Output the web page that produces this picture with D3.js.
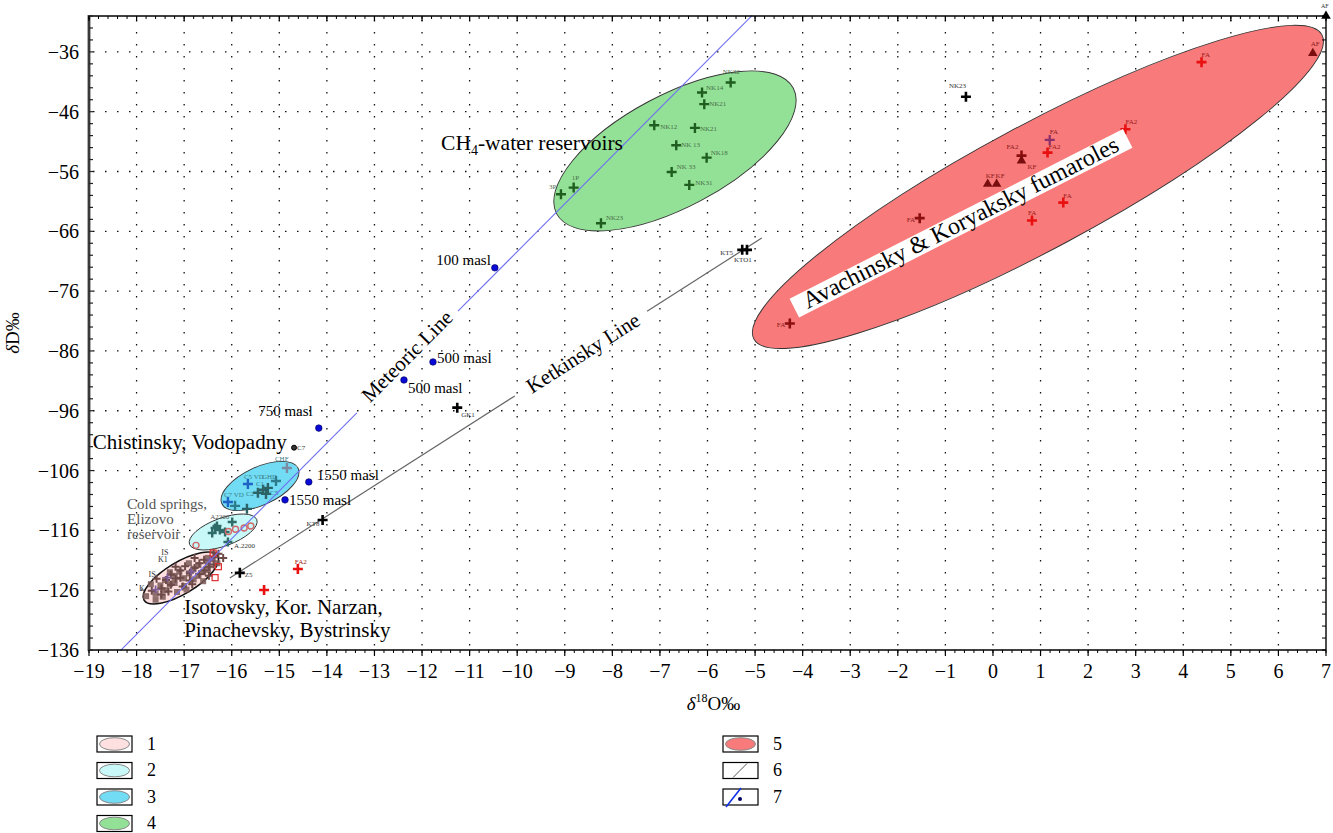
<!DOCTYPE html>
<html>
<head>
<meta charset="utf-8">
<script src="https://cdn.jsdelivr.net/npm/d3@7"></script>
<style>
  html, body { margin: 0; padding: 0; background: #fff; }
  svg { display: block; font-family: "Liberation Serif", "DejaVu Serif", serif; }
</style>
</head>
<body>
<svg id="chart" width="1333" height="833"></svg>
<script>
// ---- axes ----
const xDomain = [-19, 7];
const yDomain = [-136, -30];
const xTicks = d3.range(-19, 8, 1);
const yTicks = d3.range(-136, -35, 10);

// ---- lines: δD = slope·δ18O + intercept, drawn over the given δ18O spans ----
const meteoricLine = { slope: 8, intercept: 10.6 };
const meteoricSpans = [[-18.34, -13.37], [-11.245, -5.06]];
const ketkinskyLine = { slope: 5.085, intercept: -42.41 };
const ketkinskySpans = [[-16.04, -10.05], [-7.27, -4.86]];

// ---- field ellipses: centre, end of major axis, minor/major ratio ----
const ellipseGroups = ["1", "2", "3", "4", "5"];
const ellipseCentres = [[-17.07, -123.96], [-16.18, -116.27], [-15.406, -108.58], [-6.684, -52.56], [0.945, -58.58]];
const ellipseTips = [[-16.297, -120.26], [-15.473, -114.21], [-14.605, -105.62], [-4.198, -42.04], [6.915, -33.16]];
const ellipseRatios = [0.37, 0.39, 0.45, 0.418, 0.193];

// ---- precipitation samples (meteoric line) ----
const rainX = [-10.47, -11.77, -12.38, -14.17, -14.38, -14.88];
const rainY = [-72.1, -87.84, -90.85, -98.9, -107.9, -110.9];
const rainLabels = ["100 masl", "500 masl", "500 masl", "750 masl", "1550 masl", "1550 masl"];

// ---- CH4-water reservoirs ----
const nkX = [-5.513, -6.115, -6.068, -7.119, -6.264, -6.657, -6.018, -6.753, -6.383, -9.08, -8.813, -8.239];
const nkY = [-41.13, -42.80, -44.74, -48.26, -48.71, -51.60, -53.68, -56.07, -58.24, -59.80, -58.69, -64.65];
const nkLabels = ["NK32", "NK14", "NK21", "NK12", "NK21", "NK 13", "NK18", "NK 33", "NK31", "3P", "1P", "NK23"];

// ---- other wells and springs (black) ----
const wellX = [-0.568, -5.27, -5.17, -11.26, -14.09, -15.83];
const wellY = [-43.5, -69.1, -69.1, -95.48, -114.26, -123.1];
const wellLabels = ["NK23", "KT5", "KTO1", "GK1", "KT8", "Z5"];
const springC7 = [-14.69, -102.17];

// ---- fumarole condensates ----
const fumaroleAX = [4.384, 2.784, 1.147, 1.478, 0.82, -14.61, -15.32];
const fumaroleAY = [-37.72, -48.93, -52.84, -61.2, -64.2, -122.45, -125.97];
const fumaroleALabels = ["FA", "FA2", "FA2", "FA", "FA", "FA2", ""];
const fumaroleBX = [0.60, -1.54, -4.27, 1.193];
const fumaroleBY = [-53.34, -63.8, -81.4, -50.72];
const fumaroleBLabels = ["FA2", "FA", "FA", "FA"];
const kfX = [0.60, -0.11, 0.077, 6.723];
const kfY = [-54.18, -58.08, -58.08, -36.22];
const kfLabels = ["KF", "KF", "KF", "AF"];
const afCorner = [7, -30];

// ---- Chistinsky, Vodopadny springs ----
const chistX = [-14.84, -15.07, -15.66, -15.24, -15.34, -15.45, -15.28, -16.08, -15.68, -15.93];
const chistY = [-105.57, -107.74, -108.24, -108.9, -109.2, -109.7, -109.9, -111.25, -112.4, -111.9];
const chistLabels = ["CHF", "GHD", "C5 VD", "C1", "", "C2", "C5", "C7 VD", "", ""];
const chistKind = ["grey", "teal", "blue", "dark", "dark", "dark", "dark", "blue", "dark", "teal"];

// ---- Cold springs, Elizovo reservoir ----
const elizX = [-16.25, -16.35, -16.14, -16.41, -16.08, -16.31, -15.99];
const elizY = [-115.93, -115.6, -116.27, -116.43, -117.94, -115.26, -114.6];
const elizRingX = [-15.92, -15.6, -16.75, -16.07, -15.74];
const elizRingY = [-115.8, -115.26, -118.5, -116.2, -115.6];

// ---- Isotovsky, Kor. Narzan, Pinachevsky, Bystrinsky ----
const isoX = [-17.8, -17.6, -17.5, -17.4, -17.4, -17.3, -17.2, -17.2, -17.1, -17.0, -17.0, -16.9, -16.8, -16.8, -16.7, -16.6, -16.5, -16.5, -16.4, -16.3, -16.5, -16.6, -17.6, -17.7, -16.9, -17.3, -16.95, -17.15, -16.7, -17.45];
const isoY = [-127.0, -126.6, -125.2, -124.3, -126.0, -125.0, -123.6, -124.8, -122.9, -124.0, -125.3, -123.2, -122.4, -124.2, -121.8, -123.0, -121.4, -122.6, -120.8, -121.5, -120.6, -124.5, -127.6, -125.0, -121.5, -123.0, -125.9, -126.3, -123.6, -127.1];
const isoPurpleX = [-17.35, -16.85, -16.45, -17.6];
const isoPurpleY = [-123.9, -122.9, -120.9, -125.9];
const isoRedX = [-16.28, -16.35, -16.39];
const isoRedY = [-122.07, -123.9, -119.8];
const isoLabels = [["IS", -17.48, -120.1], ["K1", -17.55, -121.3], ["IS", -17.75, -123.8], ["K", -17.95, -126.1]];

// ---- legend ----
const legendKeys = ["1", "2", "3", "4", "5", "6", "7"];

// ================= drawing =================
const W = 1333, H = 833;
const m = { left: 89, right: 7, top: 16, bottom: 183 };
const svg = d3.select("#chart");
const x = d3.scaleLinear().domain(xDomain).range([m.left, W - m.right]);
const y = d3.scaleLinear().domain(yDomain).range([H - m.bottom, m.top]);
const X0 = x.range()[0], X1 = x.range()[1], Y0 = y.range()[0], Y1 = y.range()[1];

const fills = { "1": "#fde0df", "2": "#c9f8f8", "3": "#72dcf4", "4": "#93e196", "5": "#f87a7a" };
const serif = "Liberation Serif, DejaVu Serif, serif";

// grid
const grid = svg.append("g");
grid.selectAll("line.gx").data(xTicks.slice(1, -1)).join("line")
  .attr("x1", d => x(d)).attr("x2", d => x(d)).attr("y1", Y1 + 4).attr("y2", Y0)
  .attr("stroke", "#111").attr("stroke-width", 1.3).attr("stroke-dasharray", "1.5,10.5");
grid.selectAll("line.gy").data(yTicks.slice(1)).join("line")
  .attr("x1", X0 + 4).attr("x2", X1).attr("y1", d => y(d)).attr("y2", d => y(d))
  .attr("stroke", "#111").attr("stroke-width", 1.3).attr("stroke-dasharray", "1.5,10.5");

// ellipses
function ellipseGeom(i) {
  const cx = x(ellipseCentres[i][0]), cy = y(ellipseCentres[i][1]);
  const tx = x(ellipseTips[i][0]), ty = y(ellipseTips[i][1]);
  const a = Math.hypot(tx - cx, ty - cy);
  const ang = Math.atan2(ty - cy, tx - cx) * 180 / Math.PI;
  return { cx, cy, a, b: a * ellipseRatios[i], ang };
}
const ell = svg.append("g");
ellipseGroups.forEach((g, i) => {
  const e = ellipseGeom(i);
  ell.append("ellipse")
    .attr("transform", `translate(${e.cx},${e.cy}) rotate(${e.ang})`)
    .attr("rx", e.a).attr("ry", e.b)
    .attr("fill", fills[g])
    .attr("stroke", g === "1" ? "#111" : "#333")
    .attr("stroke-width", g === "1" ? 1.6 : 0.9);
});

// lines
function drawLine(line, spans, color, width) {
  spans.forEach(s => {
    svg.append("line")
      .attr("x1", x(s[0])).attr("y1", y(line.slope * s[0] + line.intercept))
      .attr("x2", x(s[1])).attr("y2", y(line.slope * s[1] + line.intercept))
      .attr("stroke", color).attr("stroke-width", width);
  });
}
drawLine(ketkinskyLine, ketkinskySpans, "#666", 1.2);

// markers
const cross = (s) => `M${-s},0H${s}M0,${-s}V${s}`;
function crosses(xs, ys, color, size, width) {
  svg.append("g").selectAll("path").data(xs.map((d, i) => [d, ys[i]])).join("path")
    .attr("transform", d => `translate(${x(d[0])},${y(d[1])})`)
    .attr("d", cross(size)).attr("stroke", color).attr("stroke-width", width).attr("fill", "none");
}
function tinyLabels(xs, ys, labels, offs, color, size) {
  svg.append("g").selectAll("text").data(labels.map((l, i) => [xs[i], ys[i], l, offs[i] || [4, -4]]).filter(d => d[2])).join("text")
    .attr("x", d => x(d[0]) + d[3][0]).attr("y", d => y(d[1]) + d[3][1])
    .attr("font-size", size).attr("fill", color).attr("font-family", serif)
    .text(d => d[2]);
}

// Isotovsky group: dense brown markers
svg.append("g").selectAll("rect").data(isoX.map((d, i) => [d, isoY[i]])).join("rect")
  .attr("x", d => x(d[0]) - 3).attr("y", d => y(d[1]) - 3).attr("width", 6).attr("height", 6)
  .attr("fill", "#7b5a58").attr("opacity", 0.85);
crosses(isoX.map(v => v + 0.12), isoY.map(v => v + 0.9), "#6d4a48", 4, 2);
crosses(isoPurpleX, isoPurpleY, "#7f5c9a", 4, 1.8);
svg.append("g").selectAll("rect").data(isoRedX.map((d, i) => [d, isoRedY[i]])).join("rect")
  .attr("x", d => x(d[0]) - 3).attr("y", d => y(d[1]) - 3).attr("width", 6).attr("height", 6)
  .attr("fill", "none").attr("stroke", "#e03030").attr("stroke-width", 1.2);
svg.append("g").selectAll("text").data(isoLabels).join("text")
  .attr("x", d => x(d[1])).attr("y", d => y(d[2]))
  .attr("font-size", 8).attr("fill", "#333").attr("font-family", serif).text(d => d[0]);

// Elizovo group
crosses(elizX, elizY, "#2f6b68", 4.5, 2.4);
svg.append("g").selectAll("circle").data(elizRingX.map((d, i) => [d, elizRingY[i]])).join("circle")
  .attr("cx", d => x(d[0])).attr("cy", d => y(d[1])).attr("r", 3)
  .attr("fill", "none").attr("stroke", "#d2686a").attr("stroke-width", 1.4);
svg.append("text").attr("x", x(-16.45)).attr("y", y(-114.1)).attr("font-size", 7).attr("fill", "#555").text("A2200");
svg.append("text").attr("x", x(-15.95)).attr("y", y(-119.0)).attr("font-size", 7).attr("fill", "#333").text("A.2200");

// Chistinsky group
const chistColors = { grey: "#7d8aa2", teal: "#2d7c8c", blue: "#1f63c4", dark: "#2b6366" };
chistX.forEach((d, i) => crosses([d], [chistY[i]], chistColors[chistKind[i]], 5, 2.4));
tinyLabels(chistX, chistY, chistLabels,
  [[-12, -7], [-14, -2], [-4, -5], [-12, -2], [0, 0], [-12, 3], [4, 1], [-4, -5], [0, 0], [0, 0]], "#3a7d8a", 7);

// meteoric line over the clusters
drawLine(meteoricLine, meteoricSpans, "#6f6ff2", 1.1);

// CH4-water reservoirs
crosses(nkX, nkY, "#1f5e1f", 5, 2.4);
tinyLabels(nkX, nkY, nkLabels,
  [[-8, -9], [4, -3], [5, 2], [6, 4], [5, 3], [5, 2], [4, -3], [5, -3], [6, 0], [-12, -5], [-2, -8], [5, -3]], "#4a6f4a", 7);

// wells
crosses(wellX, wellY, "#000", 5, 2.6);
tinyLabels(wellX, wellY, wellLabels,
  [[-17, -9], [-22, 5], [-13, 12], [4, 9], [-16, 6], [5, 4]], "#333", 7);
svg.append("circle").attr("cx", x(springC7[0])).attr("cy", y(springC7[1])).attr("r", 2.5)
  .attr("fill", "#333").attr("stroke", "#000");
svg.append("text").attr("x", x(springC7[0]) + 3).attr("y", y(springC7[1]) + 2).attr("font-size", 7).attr("fill", "#333").text("C7");

// fumaroles
crosses(fumaroleAX, fumaroleAY, "#e81010", 5, 2.6);
tinyLabels(fumaroleAX, fumaroleAY, fumaroleALabels,
  [[0, -5], [0, -5], [1, -4], [0, -5], [-4, -6], [-3, -5], [0, 0]], "#a01818", 7);
crosses(fumaroleBX.slice(0, 3), fumaroleBY.slice(0, 3), "#8c0f0f", 5, 2.6);
crosses(fumaroleBX.slice(3), fumaroleBY.slice(3), "#8b2f6a", 5, 2.2);
tinyLabels(fumaroleBX, fumaroleBY, fumaroleBLabels,
  [[-15, -7], [-13, 4], [-13, 4], [0, -6]], "#8c1b1b", 7);
const tri = d3.symbol().type(d3.symbolTriangle).size(40);
svg.append("g").selectAll("path").data(kfX.map((d, i) => [d, kfY[i]])).join("path")
  .attr("transform", d => `translate(${x(d[0])},${y(d[1])})`).attr("d", tri).attr("fill", "#7a0e0e");
tinyLabels(kfX, kfY, kfLabels, [[6, 8], [-2, -6], [-1, -6], [-2, -7]], "#8c1b1b", 7);
svg.append("path").attr("transform", `translate(${x(afCorner[0])},${y(afCorner[1])})`).attr("d", tri).attr("fill", "#000");
svg.append("text").attr("x", x(afCorner[0]) - 5).attr("y", y(afCorner[1]) - 8).attr("font-size", 6).attr("fill", "#333").text("AF");

// precipitation points
svg.append("g").selectAll("circle").data(rainX.map((d, i) => [d, rainY[i]])).join("circle")
  .attr("cx", d => x(d[0])).attr("cy", d => y(d[1])).attr("r", 3.3)
  .attr("fill", "#0a0ad8").attr("stroke", "#000050").attr("stroke-width", 0.6);
const rainOffs = [[-4, -3, "end"], [4, 1, "start"], [4, 13, "start"], [-6, -12, "end"], [8, -2, "start"], [4, 5, "start"]];
svg.append("g").selectAll("text").data(rainLabels.map((l, i) => [rainX[i], rainY[i], l, rainOffs[i]])).join("text")
  .attr("x", d => x(d[0]) + d[3][0]).attr("y", d => y(d[1]) + d[3][1])
  .attr("text-anchor", d => d[3][2]).attr("font-size", 15).attr("fill", "#000").text(d => d[2]);

// ---- annotations ----
function rotLabel(text, dx, dy, line, size) {
  const px = x(dx), py = y(dy);
  const ang = Math.atan2(y(dy + line.slope) - py, x(dx + 1) - px) * 180 / Math.PI;
  svg.append("text").attr("transform", `translate(${px},${py}) rotate(${ang})`)
    .attr("text-anchor", "middle").attr("dy", "0.35em").attr("font-size", size).text(text);
}
rotLabel("Meteoric Line", -12.32, -86.84, meteoricLine, 21);
rotLabel("Ketkinsky Line", -8.62, -86.3, ketkinskyLine, 21);

const ch4 = svg.append("text").attr("x", x(-11.6)).attr("y", y(-52.4)).attr("font-size", 21.5);
ch4.append("tspan").text("CH");
ch4.append("tspan").attr("font-size", 14).attr("dy", 5).text("4");
ch4.append("tspan").attr("dy", -5).text("-water reservoirs");

svg.append("text").attr("x", x(-18.92)).attr("y", y(-102.4)).attr("font-size", 21).text("Chistinsky, Vodopadny");
// three separate lines so that each sits on its own baseline
["Cold springs,", "Elizovo", "reservoir"].forEach((t, i) =>
  svg.append("text").attr("x", x(-18.2)).attr("y", y(-112.4) + i * 15)
    .attr("font-size", 15).attr("fill", "#555").text(t));
const iso = svg.append("text").attr("x", x(-17.0)).attr("y", y(-130.0)).attr("font-size", 21);
["Isotovsky, Kor. Narzan,", "Pinachevsky, Bystrinsky"].forEach((t, i) => iso.append("tspan").attr("x", x(-17.0)).attr("dy", i ? 23 : 0).text(t));

// fumarole field label on a white band
{
  const e = ellipseGeom(4);
  const px = x(-0.672), py = y(-64.65);
  const g = svg.append("g").attr("transform", `translate(${px},${py}) rotate(${e.ang + 1.2})`);
  g.append("rect").attr("x", -187).attr("y", -10.5).attr("width", 374).attr("height", 21).attr("fill", "#fff");
  g.append("text").attr("text-anchor", "middle").attr("y", 7).attr("font-size", 24).text("Avachinsky & Koryaksky fumaroles");
}

// ---- frame & axes ----
const ax = svg.append("g");
ax.append("line").attr("x1", X0).attr("x2", X1).attr("y1", Y1).attr("y2", Y1).attr("stroke", "#000").attr("stroke-width", 1.6);
ax.append("line").attr("x1", X0).attr("x2", X1).attr("y1", Y0).attr("y2", Y0).attr("stroke", "#000").attr("stroke-width", 1.6);
ax.append("line").attr("x1", X1).attr("x2", X1).attr("y1", Y1).attr("y2", Y0).attr("stroke", "#000").attr("stroke-width", 1.4);
ax.append("line").attr("x1", X0).attr("x2", X0).attr("y1", Y1 - 1).attr("y2", Y0 + 1).attr("stroke", "#3a3a3a").attr("stroke-width", 2.8);

const xMinor = d3.range(xDomain[0], xDomain[1] + 0.001, 0.2);
const yMinor = d3.range(yDomain[0], yDomain[1] + 0.001, 2);
ax.selectAll("line.bt").data(xMinor).join("line")
  .attr("x1", d => x(d)).attr("x2", d => x(d)).attr("y1", Y0).attr("y2", Y0 + 3).attr("stroke", "#000").attr("stroke-width", 1);
ax.selectAll("line.bm").data(xTicks).join("line")
  .attr("x1", d => x(d)).attr("x2", d => x(d)).attr("y1", Y0).attr("y2", Y0 + 6).attr("stroke", "#000").attr("stroke-width", 1.2);
ax.selectAll("line.tt").data(xMinor).join("line")
  .attr("x1", d => x(d)).attr("x2", d => x(d)).attr("y1", Y1).attr("y2", Y1 + 3).attr("stroke", "#000").attr("stroke-width", 1);
ax.selectAll("line.tm").data(xTicks).join("line")
  .attr("x1", d => x(d)).attr("x2", d => x(d)).attr("y1", Y1).attr("y2", Y1 + 5).attr("stroke", "#000").attr("stroke-width", 1.2);
ax.selectAll("line.lt").data(yMinor).join("line")
  .attr("x1", X0).attr("x2", X0 + 4).attr("y1", d => y(d)).attr("y2", d => y(d)).attr("stroke", "#222").attr("stroke-width", 1.2);
ax.selectAll("line.rt").data(yMinor).join("line")
  .attr("x1", X1 - 4).attr("x2", X1).attr("y1", d => y(d)).attr("y2", d => y(d)).attr("stroke", "#000").attr("stroke-width", 1);

const minus = v => (v < 0 ? "\u2212" + Math.abs(v) : String(v));
ax.selectAll("text.xl").data(xTicks).join("text")
  .attr("x", d => x(d)).attr("y", Y0 + 28).attr("text-anchor", "middle").attr("font-size", 20).text(minus);
ax.selectAll("text.yl").data(yTicks).join("text")
  .attr("x", X0 - 10).attr("y", d => y(d)).attr("dy", "0.35em").attr("text-anchor", "end").attr("font-size", 20).text(minus);

const xt = svg.append("text").attr("x", (X0 + X1) / 2 + 6).attr("y", Y0 + 60).attr("text-anchor", "middle").attr("font-size", 19);
xt.append("tspan").attr("font-style", "italic").text("δ");
xt.append("tspan").attr("font-size", 12).attr("dy", -8).text("18");
xt.append("tspan").attr("dy", 8).text("O‰");
const yt = svg.append("text").attr("transform", `translate(${X0 - 70},${(Y0 + Y1) / 2}) rotate(-90)`).attr("text-anchor", "middle").attr("font-size", 19);
yt.append("tspan").attr("font-style", "italic").text("δ");
yt.append("tspan").text("D‰");

// ---- legend ----
const leg = svg.append("g");
legendKeys.forEach((k, i) => {
  const col = i < 4 ? 0 : 1;
  const row = i < 4 ? i : i - 4;
  const bx = col ? 723 : 97, by = 736 + row * 26.5;
  leg.append("rect").attr("x", bx).attr("y", by).attr("width", 35).attr("height", 16)
    .attr("fill", "#fff").attr("stroke", "#000").attr("stroke-width", 1.2);
  if (fills[k]) {
    leg.append("ellipse").attr("cx", bx + 17.5).attr("cy", by + 8).attr("rx", 15).attr("ry", 6.3)
      .attr("fill", fills[k]).attr("stroke", "#888").attr("stroke-width", 1);
  } else if (k === "6") {
    leg.append("line").attr("x1", bx + 10).attr("y1", by + 15).attr("x2", bx + 24).attr("y2", by + 1)
      .attr("stroke", "#555").attr("stroke-width", 1);
  } else {
    leg.append("line").attr("x1", bx + 3).attr("y1", by + 18).attr("x2", bx + 18).attr("y2", by - 1)
      .attr("stroke", "#1030e8").attr("stroke-width", 1.6);
    leg.append("circle").attr("cx", bx + 17).attr("cy", by + 10).attr("r", 2).attr("fill", "#000060");
  }
  leg.append("text").attr("x", bx + 50).attr("y", by + 8).attr("dy", "0.33em").attr("font-size", 18).text(k);
});
</script>
</body>
</html>
